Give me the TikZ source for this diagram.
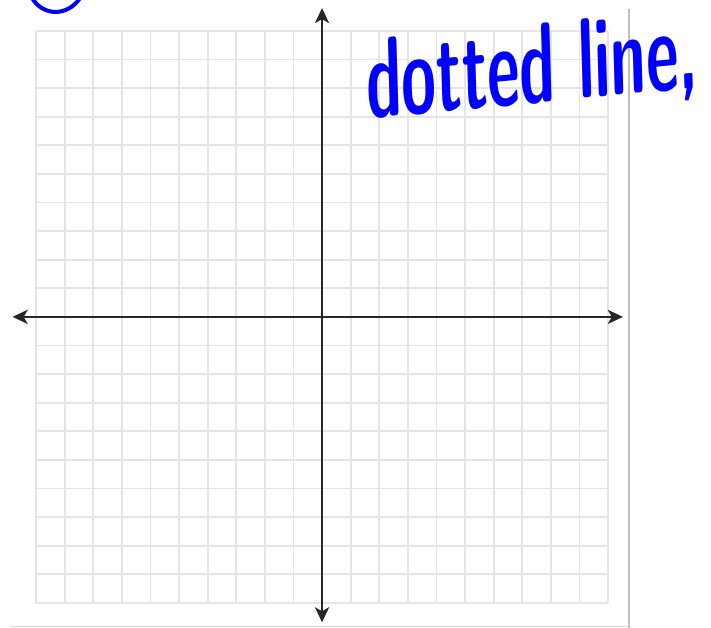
\documentclass[tikz,border=0pt]{standalone}
\usepackage{tikz}
\usetikzlibrary{arrows.meta}

\begin{document}
\begin{tikzpicture}[>={Stealth[length=15pt,width=14pt,inset=4pt]},
    gridline/.style={black!10, line width=1.8pt},
    axisline/.style={black!85, line width=2.6pt, <->},
    ink/.style={blue, line width=4pt, line cap=round}]
    \useasboundingbox (-11.26,-10.87) rectangle (13.60,11.08);
    \clip (-11.26,-10.87) rectangle (13.60,11.08);
    % Page edges
    \draw[black!25, line width=1.8pt] (10.73,10.75) -- (10.73,-10.87);
    \draw[black!15, line width=1pt] (-10.9,-10.84) -- (10.73,-10.84);
    % Grid
    \draw[gridline] (-10,-10) grid (10,10);
    % Axes
    \coordinate (xl) at (-10.82,0);
    \coordinate (xr) at (10.52,0);
    \coordinate (yb) at (0,-10.68);
    \coordinate (yt) at (0,10.80);
    \draw[axisline] (xl) -- (xr);
    \draw[axisline] (yb) -- (yt);
    % Handwriting
    \draw[ink] (-10.14,11.15) .. controls (-9.75,10.5) and (-8.9,10.5) .. (-8.46,11.15);
    \node[text=blue, font=\fontsize{63}{63}\selectfont\sffamily\bfseries,
          transform shape, yscale=1.8, rotate=3, inner sep=0pt] (note) at (7.35,8.65) {dotted line,};
\end{tikzpicture}
\end{document}
